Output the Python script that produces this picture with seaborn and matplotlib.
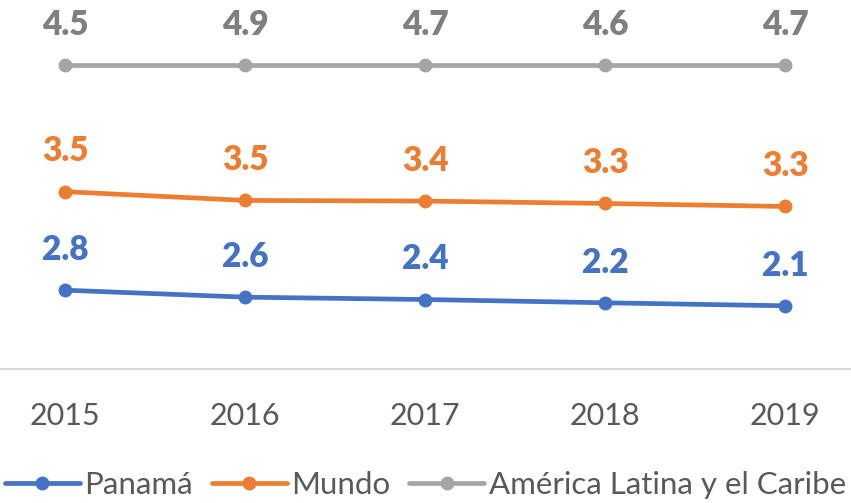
import matplotlib
matplotlib.use("Agg")
import matplotlib.pyplot as plt
import numpy as np
import pandas as pd
import seaborn as sns

years = ["2015", "2016", "2017", "2018", "2019"]
series_names = ["Panamá", "Mundo", "América Latina y el Caribe"]
panama = [2.8, 2.6, 2.4, 2.2, 2.1]
mundo = [3.5, 3.5, 3.4, 3.3, 3.3]
america_latina = [4.5, 4.9, 4.7, 4.6, 4.7]
colors = ["#4472C4", "#ED7D31", "#A5A5A5"]
label_colors = ["#4472C4", "#ED7D31", "#7F7F7F"]

# 100% stacked line chart (Excel style), labels show the raw values
values = np.array([panama, mundo, america_latina])
shares = values.cumsum(axis=0) / values.sum(axis=0) * 100

rows = []
for name, share_row in zip(series_names, shares):
    for i, s in enumerate(share_row):
        rows.append({"pos": i, "share": s, "serie": name})
df = pd.DataFrame(rows)

sns.set_theme(style="white")
plt.rcParams["font.family"] = ["Lato", "DejaVu Sans"]

fig = plt.figure(figsize=(8.51, 5.03), dpi=100)
ax = fig.add_axes([0, (503 - 369) / 503, 1, 369 / 503])

sns.lineplot(
    data=df, x="pos", y="share", hue="serie", hue_order=series_names,
    palette=colors, marker="o", markersize=10, markeredgewidth=0,
    linewidth=3.4, ax=ax,
)

for name, share_row, raw, c in zip(series_names, shares, values, label_colors):
    for i, (s, v) in enumerate(zip(share_row, raw)):
        ax.annotate(f"{v:.1f}", (i, s), xytext=(0, 29), textcoords="offset points",
                    ha="center", va="center", fontsize=24, fontweight="heavy", color=c)

ax.set_xlim(-65 / 180, (851 - 65) / 180)
ax.set_ylim(0, 369 / 304 * 100)
ax.set_xticks(range(len(years)))
ax.set_xticklabels(years, fontsize=22, color="#595959")
ax.tick_params(axis="x", length=0, pad=24)
ax.set_yticks([])
ax.set_xlabel("")
ax.set_ylabel("")
for side in ["top", "left", "right"]:
    ax.spines[side].set_visible(False)
ax.spines["bottom"].set_color("#D9D9D9")
ax.spines["bottom"].set_linewidth(1.5)

handles, labels = ax.get_legend_handles_labels()
ax.get_legend().remove()
fig.legend(handles, labels, loc="center", bbox_to_anchor=(0.5, 1 - 485 / 503),
           ncol=3, frameon=False, fontsize=22.5, labelcolor="#595959",
           handlelength=2.4, handletextpad=0.15, columnspacing=0.6)

fig.savefig("out.png", dpi=100)
